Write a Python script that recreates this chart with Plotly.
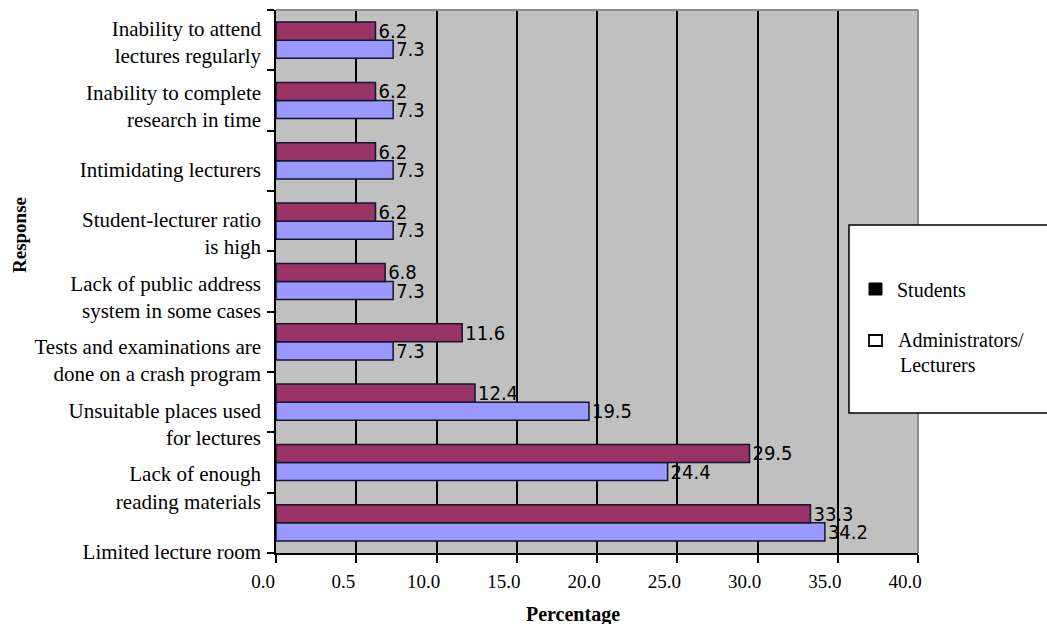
import plotly.graph_objects as go

categories = [
    "Limited lecture room",
    "Lack of enough<br>reading materials",
    "Unsuitable places used<br>for lectures",
    "Tests and examinations are<br>done on a crash program",
    "Lack of public address<br>system in some cases",
    "Student-lecturer ratio<br>is high",
    "Intimidating lecturers",
    "Inability to complete<br>research in time",
    "Inability to attend<br>lectures regularly",
]
students = [33.3, 29.5, 12.4, 11.6, 6.8, 6.2, 6.2, 6.2, 6.2]
admins = [34.2, 24.4, 19.5, 7.3, 7.3, 7.3, 7.3, 7.3, 7.3]
x_ticks = [0, 5, 10, 15, 20, 25, 30, 35, 40]
x_ticktext = ["0.0", "0.5", "10.0", "15.0", "20.0", "25.0", "30.0", "35.0", "40.0"]

idx = list(range(len(categories)))
# label positions drift slightly as in the original
label_pos = [-0.47 + i * 1.054 for i in idx]
bounds = [-0.5 + k for k in range(len(categories) + 1)]

serif = "Liberation Serif, Times New Roman, serif"
narrow = "DejaVu Sans Condensed, Liberation Sans Narrow, Arial Narrow, sans-serif"

fig = go.Figure()
fig.add_trace(go.Bar(
    y=idx, x=admins, orientation="h", name="Administrators/ Lecturers",
    marker=dict(color="#9999FF", line=dict(color="#14142e", width=1.5)),
    text=[f"{v:.1f}" for v in admins], textposition="outside", constraintext="none",
    textfont=dict(family=narrow, size=20, color="black"), cliponaxis=False,
))
fig.add_trace(go.Bar(
    y=idx, x=students, orientation="h", name="Students",
    marker=dict(color="#993366", line=dict(color="#14142e", width=1.5)),
    text=[f"{v:.1f}" for v in students], textposition="outside", constraintext="none",
    textfont=dict(family=narrow, size=20, color="black"), cliponaxis=False,
))

fig.update_layout(
    width=1047, height=624,
    margin=dict(l=276, r=129, t=10, b=71),
    paper_bgcolor="white", plot_bgcolor="#C0C0C0",
    barmode="group", bargap=0.4, bargroupgap=0,
    showlegend=False,
    font=dict(family=serif, size=19, color="black"),
    uniformtext=dict(mode=False),
)
fig.update_xaxes(
    range=[0, 40], tickvals=x_ticks, ticktext=x_ticktext,
    ticks="outside", ticklen=8, tickcolor="black", tickwidth=1.5,
    showline=True, linecolor="black", linewidth=1.5,
    showgrid=True, gridcolor="black", gridwidth=1.5,
    zeroline=False, tickfont=dict(family=serif, size=19),
    ticklabelshift=-13, ticklabelstandoff=2,
)
fig.update_yaxes(
    range=[-0.5, 8.5], tickvals=label_pos, ticktext=categories,
    ticks="", showgrid=False, zeroline=False,
    showline=True, linecolor="black", linewidth=1.5,
    tickfont=dict(family=serif, size=21), ticklabelstandoff=9,
    minor=dict(tickvals=bounds, ticks="outside", ticklen=7, tickcolor="black", tickwidth=1.5, showgrid=False),
)

# axis titles
fig.add_annotation(xref="paper", yref="paper", x=(573 - 276) / 642, y=(553 - 614) / 543,
                   text="<b>Percentage</b>", showarrow=False, xanchor="center", yanchor="middle",
                   font=dict(family=serif, size=20))
fig.add_annotation(xref="paper", yref="paper", x=(19 - 276) / 642, y=(553 - 235) / 543,
                   text="<b>Response</b>", showarrow=False, textangle=-90,
                   xanchor="center", yanchor="middle", font=dict(family=serif, size=19))

# top and right frame
fig.add_shape(type="line", xref="paper", yref="paper", x0=0, x1=1, y0=1, y1=1,
              line=dict(color="#8c8c8c", width=2))
fig.add_shape(type="line", xref="paper", yref="paper", x0=1, x1=1, y0=0, y1=1,
              line=dict(color="#8c8c8c", width=2))

# legend box
def px_x(p):
    return (p - 276) / 642

def px_y(p):
    return (553 - p) / 543

fig.add_shape(type="rect", xref="paper", yref="paper", x0=px_x(849), x1=px_x(1060), y0=px_y(413), y1=px_y(225),
              line=dict(color="black", width=1.5), fillcolor="white", layer="above")
fig.add_shape(type="rect", xref="paper", yref="paper", x0=px_x(869), x1=px_x(882), y0=px_y(295), y1=px_y(283),
              line=dict(color="black", width=1), fillcolor="black", layer="above")
fig.add_shape(type="rect", xref="paper", yref="paper", x0=px_x(869), x1=px_x(882), y0=px_y(346), y1=px_y(335),
              line=dict(color="black", width=1.8), fillcolor="white", layer="above")
fig.add_annotation(xref="paper", yref="paper", x=px_x(895), y=px_y(290), text="Students",
                   showarrow=False, xanchor="left", yanchor="middle",
                   font=dict(family=serif, size=20))
fig.add_annotation(xref="paper", yref="paper", x=px_x(896), y=px_y(340), text="Administrators/",
                   showarrow=False, xanchor="left", yanchor="middle",
                   font=dict(family=serif, size=20))
fig.add_annotation(xref="paper", yref="paper", x=px_x(898), y=px_y(365), text="Lecturers",
                   showarrow=False, xanchor="left", yanchor="middle",
                   font=dict(family=serif, size=20))

fig.write_html("out.html", config={"displayModeBar": False},
               post_script="document.body.style.margin='0';")
